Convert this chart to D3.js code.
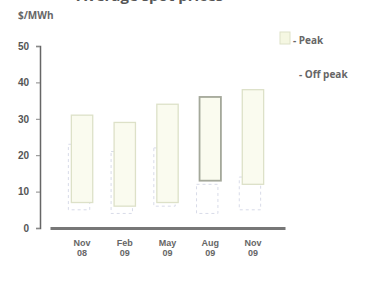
<!DOCTYPE html>
<html lang="en">
  <head>
    <meta charset="UTF-8" />
    <title>Peak and off peak prices</title>
    <style>
      body { margin: 0; background: #fff; }
      svg { font-family: "Open Sans", sans-serif; }
    </style>
  </head>
  <body>
    <div id="chart">
      <svg width="384" height="287"></svg>
    </div>
    <script src="https://d3js.org/d3.v7.min.js"></script>
    <script>
      // quarters and price ranges ($/MWh)
      var quarters = ["Nov 08", "Feb 09", "May 09", "Aug 09", "Nov 09"];
      var peakHigh = [31, 29, 34, 36, 38];
      var peakLow = [7, 6, 7, 13, 12];
      var offHigh = [23, 21, 22, 12, 14];
      var offLow = [5, 4, 6, 4, 5];
      var yTicks = [0, 10, 20, 30, 40, 50];

      var svg = d3.select("#chart>svg");
      var margin = { top: 46, right: 99, bottom: 59, left: 40 };
      var width = +svg.attr("width") - margin.left - margin.right;
      var height = +svg.attr("height") - margin.top - margin.bottom;

      var data = quarters.map(function (q, i) {
        return { q: q, ph: peakHigh[i], pl: peakLow[i], oh: offHigh[i], ol: offLow[i] };
      });

      var x = d3.scaleBand().domain(quarters).range([10, width]).padding(0.5);
      var y = d3.scaleLinear().domain([0, 50]).range([height, 0]);

      // title, mostly cut off at the top
      svg.append("text")
        .attr("x", 150).attr("y", 1)
        .attr("text-anchor", "middle")
        .attr("font-size", 15).attr("font-weight", "bold")
        .attr("fill", "#555")
        .text("Average spot prices");

      svg.append("text")
        .attr("x", 18).attr("y", 19)
        .attr("font-size", 10).attr("font-weight", "bold")
        .attr("fill", "#666")
        .text("$/MWh");

      var g = svg.append("g")
        .attr("transform", "translate(" + margin.left + "," + margin.top + ")");

      // off peak ranges, dashed
      g.selectAll(".off")
        .data(data)
        .enter().append("rect")
        .attr("class", "off")
        .attr("x", function (d) { return x(d.q) - 3; })
        .attr("y", function (d) { return y(d.oh); })
        .attr("width", x.bandwidth())
        .attr("height", function (d) { return y(d.ol) - y(d.oh); })
        .attr("fill", "none")
        .attr("stroke", "#d8dbe8")
        .attr("stroke-dasharray", "3,3");

      // peak ranges
      g.selectAll(".peak")
        .data(data)
        .enter().append("rect")
        .attr("class", "peak")
        .attr("x", function (d) { return x(d.q); })
        .attr("y", function (d) { return y(d.ph); })
        .attr("width", x.bandwidth())
        .attr("height", function (d) { return y(d.pl) - y(d.ph); })
        .attr("fill", "#fafbef")
        .attr("stroke", function (d, i) { return i === 3 ? "#a4a89a" : "#dde1c8"; })
        .attr("stroke-width", function (d, i) { return i === 3 ? 1.8 : 1.3; });

      // axes
      var yAxis = g.append("g")
        .call(d3.axisLeft(y).tickValues(yTicks).tickSize(4).tickPadding(7).tickFormat(d3.format("d")));
      yAxis.select(".domain").attr("stroke", "#666").attr("stroke-width", 1.5);
      yAxis.selectAll("text").attr("font-size", 10).attr("fill", "#555").attr("font-weight", "bold");
      yAxis.selectAll("line").attr("stroke", "#888");

      var xAxis = g.append("g")
        .attr("transform", "translate(0," + height + ")")
        .call(d3.axisBottom(x).tickSize(0).tickPadding(18));
      xAxis.select(".domain").attr("stroke", "#777").attr("stroke-width", 3);
      xAxis.selectAll("text")
        .attr("font-size", 9).attr("font-weight", "bold").attr("fill", "#666")
        .each(function (d) {
          var parts = d.split(" ");
          var t = d3.select(this).text(null);
          parts.forEach(function (p, k) {
            t.append("tspan").attr("x", 0).attr("dy", k ? "1.1em" : 0).text(p);
          });
        });

      // legend
      var lg = svg.append("g").attr("transform", "translate(280,32)");
      lg.append("rect").attr("width", 10).attr("height", 12)
        .attr("fill", "#f5f7e2").attr("stroke", "#dde1c8");
      lg.append("text").attr("x", 13).attr("y", 12)
        .attr("font-size", 10).attr("font-weight", "bold").attr("fill", "#666")
        .text("- Peak");
      lg.append("text").attr("x", 19).attr("y", 46)
        .attr("font-size", 10).attr("font-weight", "bold").attr("fill", "#666")
        .text("- Off peak");
    </script>
  </body>
</html>
